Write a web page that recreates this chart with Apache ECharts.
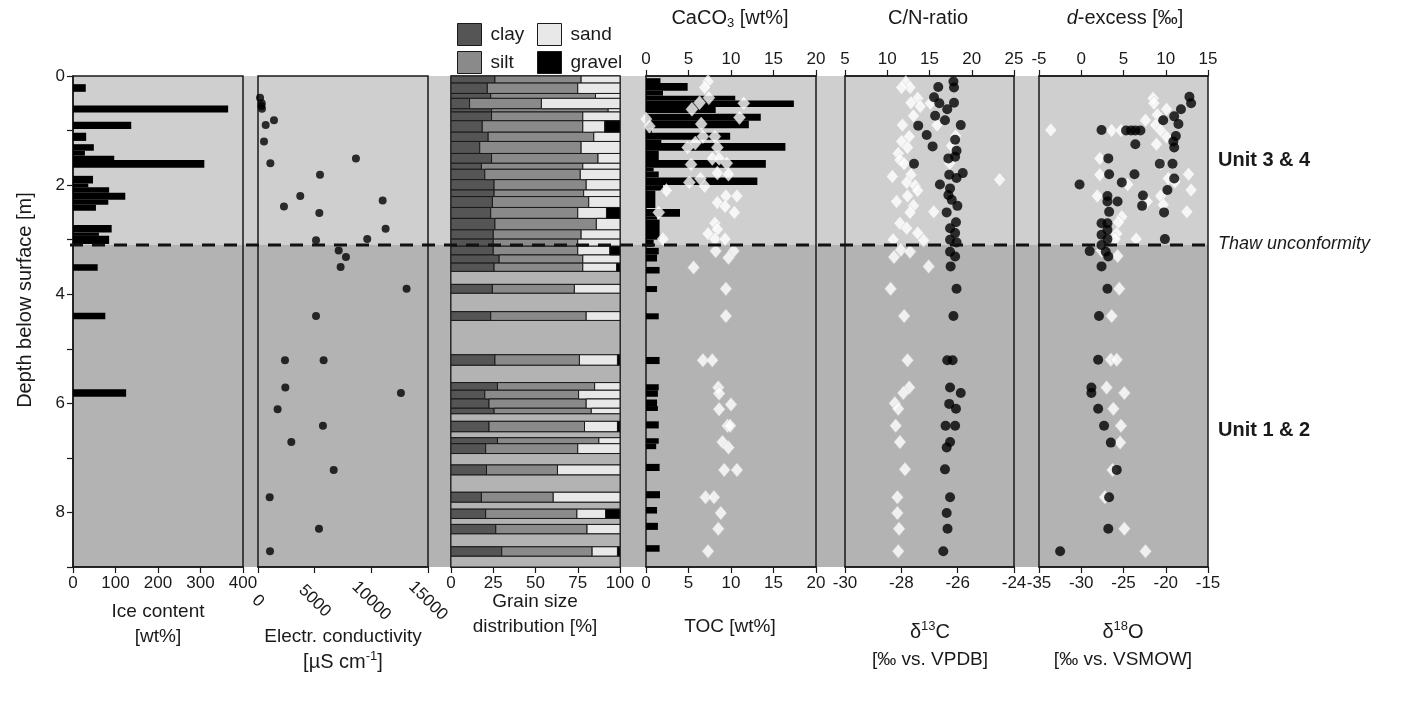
<!DOCTYPE html>
<html><head><meta charset="utf-8">
<script src="https://cdn.jsdelivr.net/npm/echarts/dist/echarts.min.js"></script>
<style>html,body{margin:0;padding:0;background:#fff}#c{width:1403px;height:703px}</style>
</head><body><div id="c"></div>
<script>
// ---------------- DATA ----------------
const unitBounds = [0, 3.1, 9];
const thawDepth = 3.1;

// Ice content [wt%] (sample intervals)
const iceTop = [0.15,0.54,0.84,1.04,1.25,1.37,1.46,1.54,1.83,1.97,2.04,2.14,2.27,2.36,2.73,2.87,2.93,3.45,4.34,5.74];
const iceBot = [0.29,0.67,0.97,1.19,1.37,1.46,1.54,1.68,1.97,2.04,2.14,2.27,2.36,2.47,2.87,2.93,3.08,3.57,4.46,5.88];
const iceVal = [30,365,137,31,49,28,97,309,47,36,85,123,83,54,91,61,85,58,76,125];

// Electrical conductivity [µS/cm]
const ecDepth = [0.40,0.50,0.55,0.60,0.81,0.90,1.20,1.51,1.60,1.81,2.20,2.28,2.39,2.51,2.80,2.99,3.01,3.20,3.32,3.50,3.90,4.40,5.21,5.21,5.71,5.81,6.11,6.41,6.71,7.22,7.72,8.30,8.71];
const ecVal   = [180,330,300,350,1410,680,530,8640,1090,5470,3730,11000,2290,5410,11260,9640,5120,7120,7760,7290,13110,5120,2380,5790,2410,12610,1730,5730,2940,6680,1030,5380,1060];

// Grain size distribution [%]
const gsTop  = [0.00,0.13,0.32,0.41,0.60,0.66,0.82,1.03,1.20,1.42,1.60,1.71,1.90,2.09,2.21,2.41,2.61,2.82,2.99,3.12,3.28,3.43,3.82,4.32,5.11,5.62,5.76,5.92,6.09,6.33,6.63,6.74,7.13,7.63,7.94,8.22,8.63];
const gsBot  = [0.13,0.32,0.41,0.60,0.66,0.82,1.03,1.20,1.42,1.60,1.71,1.90,2.09,2.21,2.41,2.61,2.82,2.99,3.12,3.28,3.43,3.58,3.98,4.48,5.30,5.76,5.92,6.09,6.19,6.52,6.74,6.92,7.31,7.81,8.11,8.39,8.80];
const gsClay = [26,21.5,23.5,11,24,24,18.5,22,17,24,18,20,25.5,25.5,24.5,23.5,26,25,25,25,28.5,25.5,24.5,23.5,26,27.5,20,22.5,25.5,22.5,27.5,20.5,21,18,20.5,26.5,30];
const gsSilt = [51,53.5,62,42.5,69,54,59.5,62.5,60,63,60,56.5,54.5,53,57,51.5,60,52,50,50,49.5,52.5,48.5,56.5,50,57.5,55.5,57.5,57.5,56.5,60,54.5,42,42.5,54,54,53.5];
const gsSand = [23,25,14.5,46.5,7,22,13,15.5,23,13,22,23.5,20,21.5,18.5,17,14,23,25,19,22,20,27,20,22.5,15,24.5,20,17,19.5,12.5,25,37,39.5,17,19.5,15];
const gsGravel=[0,0,0,0,0,0,9,0,0,0,0,0,0,0,0,8,0,0,0,6,0,2,0,0,1.5,0,0,0,0,1.5,0,0,0,0,8.5,0,1.5];
const gsGapTop = [3.58,3.98,4.48,5.30,6.19,6.52,6.92,7.31,7.81,8.11,8.39,8.80];
const gsGapBot = [3.82,4.32,5.11,5.62,6.33,6.63,7.13,7.63,7.94,8.22,8.63,9.00];

// TOC [wt%] (sample intervals)
const tocTop = [0.04,0.13,0.27,0.36,0.45,0.57,0.69,0.82,0.96,1.04,1.17,1.23,1.37,1.54,1.68,1.75,1.86,2.00,2.10,2.44,2.58,2.63,3.00,3.15,3.27,3.50,3.85,4.35,5.15,5.65,5.76,5.93,6.05,6.33,6.64,6.74,7.11,7.61,7.90,8.19,8.60];
const tocBot = [0.13,0.27,0.36,0.45,0.57,0.68,0.82,0.96,1.04,1.17,1.23,1.37,1.54,1.68,1.75,1.86,2.00,2.10,2.42,2.58,2.63,3.00,3.13,3.27,3.40,3.62,3.96,4.46,5.28,5.76,5.88,6.05,6.14,6.46,6.74,6.84,7.24,7.74,8.02,8.32,8.72];
const tocVal = [1.7,4.9,2.0,10.5,17.4,8.2,13.5,12.1,0.7,9.9,1.8,16.4,1.5,14.1,0.9,1.5,13.1,2.0,1.1,4.0,1.3,1.6,0.9,1.5,1.3,1.6,1.3,1.5,1.6,1.5,1.4,1.3,1.4,1.5,1.5,1.2,1.6,1.65,1.3,1.4,1.6];

// CaCO3 [wt%]
const caDepth = [0.10,0.21,0.40,0.49,0.50,0.61,0.76,0.79,0.88,0.92,1.11,1.11,1.23,1.31,1.31,1.51,1.51,1.60,1.62,1.78,1.80,1.88,1.95,2.02,2.10,2.20,2.20,2.32,2.39,2.50,2.50,2.70,2.81,2.89,2.99,2.99,2.99,3.21,3.21,3.33,3.51,3.90,4.40,5.21,5.21,5.71,5.82,6.02,6.11,6.41,6.41,6.71,6.81,7.22,7.22,7.72,7.72,8.01,8.30,8.71];
const caVal   = [7.3,6.9,7.4,6.3,11.5,5.4,11.0,0.0,6.5,0.4,6.7,8.1,5.8,4.9,8.4,7.8,8.6,9.5,5.3,8.4,9.7,6.4,5.1,6.9,2.4,9.4,10.7,8.4,9.3,10.4,1.5,8.1,8.4,7.3,8.1,9.3,2.0,8.2,10.3,9.7,5.6,9.4,9.4,6.7,7.8,8.5,8.6,10.0,8.6,9.6,9.9,9.0,9.7,9.2,10.7,7.0,8.0,8.8,8.5,7.3];

// delta13C [‰ vs. VPDB]
const d13cDepth = [0.10,0.21,0.20,0.39,0.50,0.49,0.61,0.73,0.81,0.90,0.91,1.08,1.29,1.17,1.37,1.48,1.51,1.61,1.81,1.78,1.87,1.99,2.06,2.18,2.27,2.38,2.50,2.68,2.79,2.88,3.00,3.05,3.22,3.31,3.49,3.90,4.40,5.21,5.21,5.71,5.81,6.01,6.10,6.41,6.41,6.71,6.81,7.21,7.72,8.01,8.30,8.71];
const d13cVal   = [-26.15,-26.13,-26.69,-26.84,-26.65,-26.13,-26.37,-26.80,-26.45,-25.89,-27.40,-27.10,-26.89,-26.09,-26.04,-26.09,-26.33,-27.55,-26.30,-25.82,-26.04,-26.63,-26.27,-26.33,-26.21,-26.01,-26.39,-26.06,-26.27,-26.09,-26.27,-26.04,-26.27,-26.09,-26.25,-26.04,-26.15,-26.37,-26.18,-26.27,-25.89,-26.30,-26.06,-26.43,-26.09,-26.27,-26.39,-26.45,-26.27,-26.39,-26.36,-26.51];

// C/N ratio
const cnDepth = [0.12,0.21,0.21,0.41,0.49,0.56,0.50,0.73,0.90,0.90,1.11,1.20,1.31,1.42,1.54,1.61,1.10,1.28,1.60,1.90,1.81,1.84,1.95,2.01,2.10,2.20,2.30,2.38,2.50,2.49,2.70,2.79,2.88,3.01,3.00,3.19,3.22,3.32,3.49,3.90,4.40,5.21,5.71,5.81,6.00,6.10,6.41,6.71,7.21,7.72,8.01,8.30,8.71];
const cnVal   = [12.2,12.7,11.7,13.6,12.8,13.9,15.1,13.1,15.9,11.8,12.6,11.7,12.4,11.3,11.5,12.0,18.1,17.6,17.4,23.3,12.8,10.6,12.3,13.3,13.6,12.4,11.1,13.1,12.7,15.5,11.5,12.3,13.6,14.3,10.7,11.6,12.7,10.8,14.9,10.4,12.0,12.4,12.6,11.9,10.9,11.3,11.0,11.5,12.1,11.2,11.2,11.4,11.3];

// delta18O [‰ vs. VSMOW]
const d18oDepth = [0.38,0.50,0.61,0.74,0.81,0.88,0.99,1.00,1.00,1.00,1.00,1.10,1.20,1.31,1.25,1.51,1.61,1.61,1.80,1.80,1.88,1.95,1.99,2.09,2.20,2.19,2.30,2.30,2.38,2.49,2.50,2.70,2.70,2.82,2.91,2.99,2.99,3.10,3.21,3.22,3.31,3.49,3.90,4.40,5.20,5.71,5.81,6.10,6.41,6.72,7.22,7.72,8.30,8.71];
const d18oVal   = [-17.2,-17.0,-18.2,-19.0,-20.3,-18.5,-27.6,-24.7,-24.1,-23.6,-23.0,-18.8,-19.1,-19.0,-23.6,-26.8,-20.7,-19.2,-26.7,-23.7,-19.0,-25.2,-30.2,-19.8,-26.9,-22.7,-25.7,-26.9,-22.8,-26.7,-20.2,-27.6,-26.9,-26.9,-27.6,-26.9,-20.1,-27.6,-29.0,-27.1,-26.8,-27.6,-26.9,-27.9,-28.0,-28.8,-28.8,-28.0,-27.3,-26.5,-25.8,-26.7,-26.8,-32.5];

// d-excess [‰]
const dexDepth = [0.41,0.50,0.61,0.71,0.81,0.90,0.99,1.00,1.00,1.00,1.12,1.25,1.51,1.61,1.81,1.80,1.88,1.94,1.99,2.09,2.20,2.20,2.30,2.36,2.49,2.58,2.68,2.89,2.99,2.99,3.20,3.30,3.90,4.40,5.20,5.20,5.71,5.81,6.10,6.41,6.72,7.22,7.72,8.30,8.71];
const dexVal   = [8.5,8.6,10.1,9.0,7.6,8.8,-3.6,3.6,4.7,9.4,10.1,8.9,2.2,9.4,2.2,12.7,10.3,11.1,5.5,13.0,1.9,9.4,7.8,9.7,12.5,4.8,4.4,4.2,6.5,4.0,2.4,4.3,4.5,3.6,3.5,4.2,3.0,5.1,3.8,4.7,4.6,3.7,2.8,5.1,7.6];

// ---------------- STYLE / LAYOUT ----------------
const FONT = "'Liberation Sans', Arial, sans-serif";
const TOP = 76, H = 491;
const panels = [
  {left:73, width:170}, {left:258, width:170}, {left:451, width:169},
  {left:646, width:170}, {left:845, width:169}, {left:1039, width:169}
];
const bandColors = ['#cfcfcf', '#b3b3b3'];
const fracColors = {clay:'#555555', silt:'#8a8a8a', sand:'#e8e8e8', gravel:'#000000'};
const INK = '#1a1a1a';

function rectRender(fillFn, stroke, lw) {
  return function (params, api) {
    const a = api.coord([api.value(0), api.value(2)]);
    const b = api.coord([api.value(1), api.value(3)]);
    return {type:'rect',
      shape:{x:Math.min(a[0],b[0]), y:Math.min(a[1],b[1]), width:Math.abs(b[0]-a[0]), height:Math.abs(b[1]-a[1])},
      style:{fill:fillFn(params.dataIndex), stroke:stroke, lineWidth:lw}};
  };
}

const grids = [{left:73, top:TOP, width:1135, height:H, show:false}].concat(
  panels.map(p => ({left:p.left, top:TOP, width:p.width, height:H, show:true,
    borderColor:INK, borderWidth:1.5, backgroundColor:'transparent', z:4})));

const tickLbl = {fontSize:17, color:INK, fontFamily:FONT};
function xAx(gi, pos, min, max, interval, extraLabel) {
  return {gridIndex:gi, type:'value', position:pos, min:min, max:max, interval:interval,
    axisLine:{show:true, onZero:false, lineStyle:{color:INK, width:1.5}},
    axisTick:{show:true, length:6, lineStyle:{color:INK, width:1.2}},
    axisLabel:Object.assign({margin:8, formatter: v => String(v)}, tickLbl, extraLabel || {}),
    splitLine:{show:false}, z:5};
}
const xAxes = [
  {gridIndex:0, type:'value', min:0, max:1, show:false},
  xAx(1,'bottom',0,400,100),
  xAx(2,'bottom',0,15000,5000,{rotate:-45, align:'center', verticalAlign:'middle', margin:34}),
  xAx(3,'bottom',0,100,25),
  xAx(4,'bottom',0,20,5),
  xAx(4,'top',0,20,5),
  xAx(5,'bottom',-30,-24,2),
  xAx(5,'top',5,25,5),
  xAx(6,'bottom',-35,-15,5),
  xAx(6,'top',-5,15,5)
];
const yAxes = [0,1,2,3,4,5,6].map(gi => {
  if (gi === 1) {
    return {gridIndex:1, type:'value', min:0, max:9, inverse:true, interval:1,
      axisLine:{show:true, lineStyle:{color:INK, width:1.5}},
      axisTick:{show:true, length:6, lineStyle:{color:INK, width:1.2}},
      axisLabel:Object.assign({margin:8, formatter: v => (v % 2 === 0 ? String(v) : '')}, tickLbl),
      splitLine:{show:false}, z:5};
  }
  return {gridIndex:gi, type:'value', min:0, max:9, inverse:true, show:false};
});

const series = [];
// background units
series.push({type:'custom', xAxisIndex:0, yAxisIndex:0, z:0, silent:true,
  data: unitBounds.slice(0,-1).map((t,i) => [0, 1, t, unitBounds[i+1]]),
  renderItem: rectRender(i => bandColors[i], null, 0)});

// ice content bars
series.push({type:'custom', xAxisIndex:1, yAxisIndex:1, z:6,
  data: iceVal.map((v,i) => [0, v, iceTop[i], iceBot[i]]),
  renderItem: rectRender(() => '#000', null, 0)});

// EC
series.push({type:'scatter', xAxisIndex:2, yAxisIndex:2, z:6, symbolSize:8,
  itemStyle:{color:'#000'}, data: ecVal.map((v,i) => [v, ecDepth[i]])});

// grain size
series.push({type:'custom', name:'nodata', xAxisIndex:3, yAxisIndex:3, z:6,
  data: gsGapTop.map((t,i) => [0, 100, t, gsGapBot[i]]),
  renderItem: rectRender(() => bandColors[1], INK, 1)});
const fr = {clay:gsClay, silt:gsSilt, sand:gsSand, gravel:gsGravel};
const order = ['clay','silt','sand','gravel'];
order.forEach((name, k) => {
  const data = [];
  gsTop.forEach((t,i) => {
    let start = 0;
    for (let j = 0; j < k; j++) start += fr[order[j]][i];
    const w = fr[name][i];
    if (w > 0) data.push([start, Math.min(100, start + w), t, gsBot[i]]);
  });
  series.push({type:'custom', name:name, xAxisIndex:3, yAxisIndex:3, z:6,
    itemStyle:{color:fracColors[name], borderColor:INK, borderWidth:1},
    data:data, renderItem: rectRender(() => fracColors[name], INK, 1)});
});

// TOC bars
series.push({type:'custom', xAxisIndex:4, yAxisIndex:4, z:6,
  data: tocVal.map((v,i) => [0, v, tocTop[i], tocBot[i]]),
  renderItem: rectRender(() => '#000', null, 0)});
// CaCO3 diamonds
const diamondStyle = {color:'#ffffff', borderColor:'#c8c8c8', borderWidth:0.6};
series.push({type:'scatter', xAxisIndex:5, yAxisIndex:4, z:7, symbol:'diamond', symbolSize:[12,14],
  itemStyle:diamondStyle, data: caVal.map((v,i) => [v, caDepth[i]])});
// C/N diamonds then d13C dots
series.push({type:'scatter', xAxisIndex:7, yAxisIndex:5, z:6, symbol:'diamond', symbolSize:[12,14],
  itemStyle:diamondStyle, data: cnVal.map((v,i) => [v, cnDepth[i]])});
series.push({type:'scatter', xAxisIndex:6, yAxisIndex:5, z:7, symbolSize:10,
  itemStyle:{color:'#000'}, data: d13cVal.map((v,i) => [v, d13cDepth[i]])});
// d-excess diamonds then d18O dots
series.push({type:'scatter', xAxisIndex:9, yAxisIndex:6, z:6, symbol:'diamond', symbolSize:[12,14],
  itemStyle:diamondStyle, data: dexVal.map((v,i) => [v, dexDepth[i]])});
series.push({type:'scatter', xAxisIndex:8, yAxisIndex:6, z:7, symbolSize:10,
  itemStyle:{color:'#000'}, data: d18oVal.map((v,i) => [v, d18oDepth[i]])});

// thaw unconformity dashed line
series.push({type:'custom', xAxisIndex:0, yAxisIndex:0, z:20, silent:true,
  data:[[0, 1, thawDepth]],
  renderItem: function (params, api) {
    const a = api.coord([0, api.value(2)]);
    const b = api.coord([1, api.value(2)]);
    return {type:'line', shape:{x1:a[0]-3, y1:a[1], x2:b[0]+4, y2:b[1]},
      style:{stroke:'#111', lineWidth:3, lineDash:[13,9]}};
  }});

function txt(x, y, text, opts) {
  return Object.assign({type:'text', x:x, y:y, z:30,
    style:Object.assign({text:text, fill:INK, fontSize:19, fontFamily:FONT, align:'center', verticalAlign:'middle'}, (opts && opts.style) || {})},
    (opts && opts.el) || {});
}
const rn = {n:{fontSize:20, fontFamily:FONT, color:INK, lineHeight:24},
            sub:{fontSize:13, fontFamily:FONT, color:INK, verticalAlign:'bottom', lineHeight:12},
            sup:{fontSize:13, fontFamily:FONT, color:INK, verticalAlign:'top', lineHeight:12},
            i:{fontSize:20, fontFamily:FONT, color:INK, fontStyle:'italic', lineHeight:24}};

const graphic = [
  txt(25, 300, 'Depth below surface [m]', {el:{rotation:Math.PI/2}, style:{fontSize:20}}),
  txt(158, 612, 'Ice content'), txt(158, 637, '[wt%]'),
  txt(343, 637, 'Electr. conductivity'),
  txt(343, 662, '{n|[µS cm}{sup|-1}{n|]}', {style:{rich:rn}}),
  txt(535, 602, 'Grain size'), txt(535, 627, 'distribution [%]'),
  txt(730, 627, 'TOC [wt%]'),
  txt(930, 632, '{n|δ}{sup|13}{n|C}', {style:{rich:rn}}),
  txt(930, 660, '[‰ vs. VPDB]'),
  txt(1123, 632, '{n|δ}{sup|18}{n|O}', {style:{rich:rn}}),
  txt(1123, 660, '[‰ vs. VSMOW]'),
  txt(730, 18, '{n|CaCO}{sub|3}{n| [wt%]}', {style:{rich:rn}}),
  txt(928, 18, 'C/N-ratio', {style:{fontSize:20}}),
  txt(1125, 18, '{i|d}{n|-excess [‰]}', {style:{rich:rn}}),
  txt(1218, 160, 'Unit 3 & 4', {style:{align:'left', fontWeight:'bold', fontSize:20}}),
  txt(1218, 244, 'Thaw unconformity', {style:{align:'left', fontStyle:'italic', fontSize:18}}),
  txt(1218, 430, 'Unit 1 & 2', {style:{align:'left', fontWeight:'bold', fontSize:20}})
];

const legendCommon = {orient:'vertical', top:18, itemWidth:24, itemHeight:22, itemGap:5, selectedMode:false,
  textStyle:{fontSize:19, color:INK, fontFamily:FONT, padding:[0,0,0,4]}};
function legItem(n) { return {name:n, icon:'rect', itemStyle:{color:fracColors[n], borderColor:INK, borderWidth:1}}; }
const legends = [
  Object.assign({left:452, data:[legItem('clay'), legItem('silt')]}, legendCommon),
  Object.assign({left:532, data:[legItem('sand'), legItem('gravel')]}, legendCommon)
];

const chart = echarts.init(document.getElementById('c'), null, {renderer:'canvas'});
chart.setOption({animation:false, backgroundColor:'#ffffff', grid:grids, xAxis:xAxes, yAxis:yAxes,
  legend:legends, series:series, graphic:graphic});
</script>
</body></html>
